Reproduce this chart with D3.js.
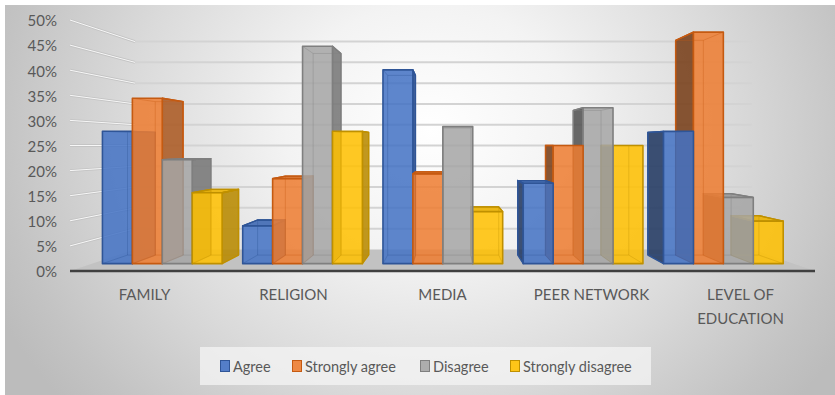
<!DOCTYPE html>
<html>
<head>
<meta charset="utf-8">
<script src="https://cdn.jsdelivr.net/npm/d3@7"></script>
<style>
  html, body { margin: 0; padding: 0; background: #ffffff; }
  svg { display: block; }
  text { font-family: Lato, "Open Sans", "Liberation Sans", sans-serif; fill: #595959; }
</style>
</head>
<body>
<svg id="chart" width="835" height="395"></svg>
<script>
// ---- data ----
const categories = ["FAMILY", "RELIGION", "MEDIA", "PEER NETWORK", "LEVEL OF EDUCATION"];
const seriesNames = ["Agree", "Strongly agree", "Disagree", "Strongly disagree"];
const agree            = [0.28, 0.08, 0.41, 0.17, 0.28];
const stronglyAgree    = [0.35, 0.18, 0.19, 0.25, 0.49];
const disagree         = [0.22, 0.46, 0.29, 0.33, 0.14];
const stronglyDisagree = [0.15, 0.28, 0.11, 0.25, 0.09];
const yTicks = [0, 0.05, 0.10, 0.15, 0.20, 0.25, 0.30, 0.35, 0.40, 0.45, 0.50];

// ---- styling ----
const fills  = ["#4472C4", "#ED7D31", "#A5A5A5", "#FFC000"];
const edges  = ["#2F5597", "#C55A11", "#7F7F7F", "#BF9000"];

const series = seriesNames.map((name, j) => ({
  name,
  values: [agree, stronglyAgree, disagree, stronglyDisagree][j],
  fill: fills[j],
  edge: edges[j]
}));

const svg = d3.select("#chart");
const W = 835, H = 395;

// ---- background ----
const defs = svg.append("defs");
const bg = defs.append("radialGradient")
  .attr("id", "bgGrad")
  .attr("gradientUnits", "userSpaceOnUse")
  .attr("cx", 0).attr("cy", 0).attr("r", 1)
  .attr("gradientTransform", "translate(430,130) scale(480,420)");
[[0, "#ffffff"], [0.3, "#f3f3f3"], [0.63, "#dadada"], [0.9, "#c3c3c3"], [1, "#bcbcbc"]]
  .forEach(([o, c]) => bg.append("stop").attr("offset", o).attr("stop-color", c));

svg.append("rect").attr("x", 5).attr("y", 5).attr("width", W - 5).attr("height", H - 5)
  .attr("fill", "url(#bgGrad)");

// ---- scales (front plane of the plot box) ----
const x0 = d3.scaleBand().domain(categories).range([70, 815]);
const x1 = d3.scaleBand().domain(seriesNames).range([0, x0.bandwidth()])
  .paddingInner(0).paddingOuter(0.343);
const y = d3.scaleLinear().domain([0, 0.5]).range([271, 20]);

// ---- perspective projection ----
// z = 0 is the front edge of the floor, z = 1 the back wall.
const vp = { x: 448, y: 145.5 };
const k = 0.2077;
function P(X, Y, z) {
  const s = 1 / (1 + k * z);
  return [vp.x + (X - vp.x) * s, vp.y + (Y - vp.y) * s];
}
const line = d3.line();
const poly = pts => line(pts) + "Z";

const Y0 = y(0);

// ---- floor ----
svg.append("path")
  .attr("d", poly([P(70, Y0, 0), P(815, Y0, 0), P(815, Y0, 1), P(70, Y0, 1)]))
  .attr("fill", "#c2c2c2");

// ---- gridlines: side wall and back wall ----
const grid = svg.append("g");
yTicks.forEach(t => {
  if (t > 0) {
    const a = P(70, y(t), 0), b = P(70, y(t), 1);
    grid.append("path").attr("d", line([a, b]))
      .attr("stroke", "#c4c4c4").attr("stroke-width", 2.8).attr("fill", "none");
    grid.append("path").attr("d", line([a, b]))
      .attr("stroke", "#f7f7f7").attr("stroke-width", 1).attr("fill", "none");
    grid.append("path").attr("d", line([P(70, y(t), 1), P(815, y(t), 1)]))
      .attr("stroke", "#d3d3d3").attr("stroke-width", 2).attr("fill", "none");
  }
});

// ---- front axis line ----
svg.append("path")
  .attr("d", line([P(70, Y0, 0), P(815, Y0, 0)]))
  .attr("stroke", "#404040").attr("stroke-width", 2.6);

// ---- bars ----
const zf = 0.30, zb = 0.70;
const bars = [];
categories.forEach((c, i) => {
  series.forEach((s, j) => {
    const X0 = x0(c) + x1(s.name);
    const X1 = X0 + x1.bandwidth();
    bars.push({ c, s, v: s.values[i], X0, X1 });
  });
});
// paint from the outside toward the vanishing point
bars.sort((a, b) => Math.abs((b.X0 + b.X1) / 2 - vp.x) - Math.abs((a.X0 + a.X1) / 2 - vp.x));

const dark = (c, m) => { const r = d3.rgb(c); return d3.rgb(r.r * m, r.g * m, r.b * m).formatHex(); };

const barG = svg.append("g");
bars.forEach(b => {
  const g = barG.append("g");
  const Yt = y(b.v), Yb = Y0;
  const f = b.s.fill, e = b.s.edge;
  const front = [P(b.X0, Yt, zf), P(b.X1, Yt, zf), P(b.X1, Yb, zf), P(b.X0, Yb, zf)];
  const back  = [P(b.X0, Yt, zb), P(b.X1, Yt, zb), P(b.X1, Yb, zb), P(b.X0, Yb, zb)];
  const right = [P(b.X1, Yt, zf), P(b.X1, Yt, zb), P(b.X1, Yb, zb), P(b.X1, Yb, zf)];
  const left  = [P(b.X0, Yt, zf), P(b.X0, Yt, zb), P(b.X0, Yb, zb), P(b.X0, Yb, zf)];
  const top   = [P(b.X0, Yt, zf), P(b.X1, Yt, zf), P(b.X1, Yt, zb), P(b.X0, Yt, zb)];

  const sideFaces = [];
  if (b.X1 < vp.x) sideFaces.push({ pts: right, shade: 0.72 });
  if (b.X0 > vp.x) sideFaces.push({ pts: left, shade: 0.5 });
  const showTop = Yt > vp.y;

  sideFaces.forEach(sf => {
    g.append("path").attr("d", poly(sf.pts))
      .attr("fill", dark(f, sf.shade)).attr("fill-opacity", 0.88)
      .attr("stroke", e).attr("stroke-width", 1.3).attr("stroke-linejoin", "round");
  });
  if (showTop) {
    g.append("path").attr("d", poly(top))
      .attr("fill", dark(f, 0.92)).attr("fill-opacity", 0.9)
      .attr("stroke", e).attr("stroke-width", 1.3).attr("stroke-linejoin", "round");
  }
  g.append("path").attr("d", poly(front))
    .attr("fill", f).attr("fill-opacity", 0.86)
    .attr("stroke", "none");

  // edges behind the translucent faces
  const hidden = [
    [back[0], back[1]], [back[1], back[2]], [back[2], back[3]], [back[3], back[0]],
    [front[2], back[2]], [front[3], back[3]], [front[0], back[0]], [front[1], back[1]]
  ];
  hidden.forEach(seg => {
    g.append("path").attr("d", line(seg))
      .attr("stroke", e).attr("stroke-width", 1).attr("stroke-opacity", 0.35).attr("fill", "none");
  });

  g.append("path").attr("d", poly(front))
    .attr("fill", "none").attr("stroke", e).attr("stroke-width", 1.6)
    .attr("stroke-linejoin", "round");
  // visible connecting edges
  sideFaces.forEach(sf => {
    g.append("path").attr("d", line([sf.pts[0], sf.pts[1], sf.pts[2]]))
      .attr("fill", "none").attr("stroke", e).attr("stroke-width", 1.3);
  });
  if (showTop) {
    g.append("path").attr("d", line([top[1], top[2], top[3], top[0]]))
      .attr("fill", "none").attr("stroke", e).attr("stroke-width", 1.3);
  }
});

// ---- value axis labels ----
const yAxis = d3.axisLeft(y).tickValues(yTicks).tickFormat(d3.format(".0%"))
  .tickSize(0).tickPadding(0);
const ya = svg.append("g").attr("transform", "translate(57,1)").call(yAxis);
ya.select(".domain").remove();
ya.selectAll("text").attr("font-size", 15).attr("fill", "#595959")
  .style("font-family", "Lato, 'Open Sans', sans-serif");

// ---- category labels ----
const catG = svg.append("g");
categories.forEach(c => {
  const t = catG.append("text")
    .attr("x", x0(c) + x0.bandwidth() / 2)
    .attr("y", 300)
    .attr("text-anchor", "middle")
    .attr("font-size", 15);
  // wrap to the band width
  const words = c.split(" ");
  let lines = [], cur = [];
  const probe = svg.append("text").attr("font-size", 15);
  words.forEach(w => {
    const test = cur.concat(w).join(" ");
    probe.text(test);
    if (probe.node().getComputedTextLength() > x0.bandwidth() - 12 && cur.length) {
      lines.push(cur.join(" "));
      cur = [w];
    } else cur.push(w);
  });
  lines.push(cur.join(" "));
  probe.remove();
  lines.forEach((ln, i) => {
    t.append("tspan").attr("x", x0(c) + x0.bandwidth() / 2).attr("dy", i === 0 ? 0 : 24).text(ln);
  });
});

// ---- legend ----
const leg = svg.append("g");
leg.append("rect").attr("x", 200).attr("y", 347).attr("width", 451).attr("height", 38)
  .attr("fill", "#f4f4f4").attr("fill-opacity", 0.75);
const legX = [220, 292, 420, 510];
series.forEach((s, j) => {
  leg.append("rect").attr("x", legX[j] + 0.5).attr("y", 360.5).attr("width", 9).attr("height", 11)
    .attr("fill", s.fill).attr("fill-opacity", 0.9).attr("stroke", s.edge).attr("stroke-width", 1);
  leg.append("text").attr("x", legX[j] + 13).attr("y", 366)
    .attr("dominant-baseline", "central")
    .attr("font-size", 14.5).text(s.name);
});
</script>
</body>
</html>
